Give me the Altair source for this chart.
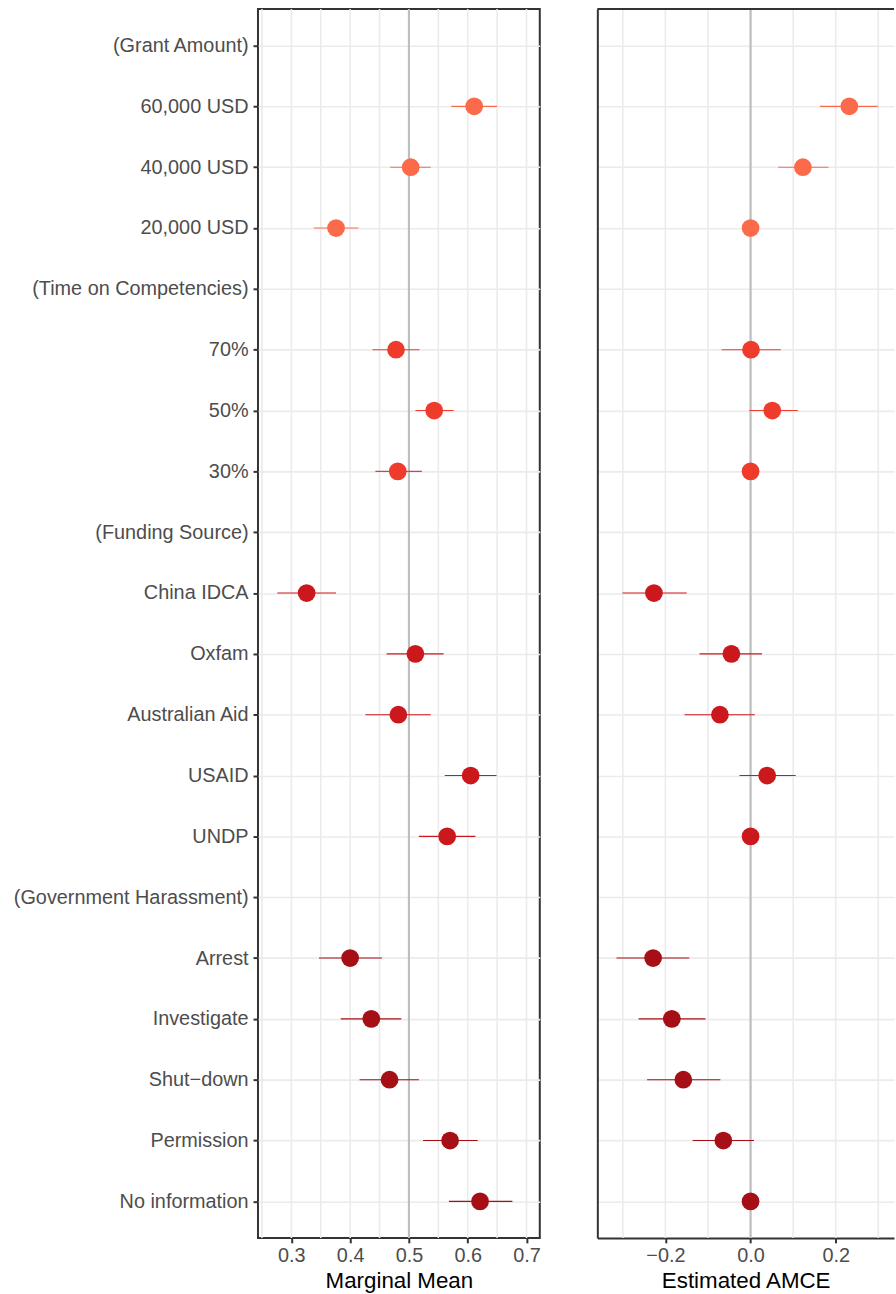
import altair as alt
import pandas as pd

# ---- data ----
levels = [
    "(Grant Amount)", "60,000 USD", "40,000 USD", "20,000 USD",
    "(Time on Competencies)", "70%", "50%", "30%",
    "(Funding Source)", "China IDCA", "Oxfam", "Australian Aid", "USAID", "UNDP",
    "(Government Harassment)", "Arrest", "Investigate", "Shut\u2212down", "Permission", "No information",
]
features = [
    "Grant Amount", "Grant Amount", "Grant Amount", "Grant Amount",
    "Time on Competencies", "Time on Competencies", "Time on Competencies", "Time on Competencies",
    "Funding Source", "Funding Source", "Funding Source", "Funding Source", "Funding Source", "Funding Source",
    "Government Harassment", "Government Harassment", "Government Harassment", "Government Harassment",
    "Government Harassment", "Government Harassment",
]
is_header = [True, False, False, False,
             True, False, False, False,
             True, False, False, False, False, False,
             True, False, False, False, False, False]

mm_est = [None, 0.611, 0.503, 0.376, None, 0.478, 0.543, 0.481, None, 0.326, 0.511, 0.482, 0.605, 0.565,
          None, 0.400, 0.436, 0.467, 0.570, 0.621]
mm_lo = [None, 0.572, 0.468, 0.338, None, 0.438, 0.511, 0.443, None, 0.276, 0.462, 0.426, 0.561, 0.517,
         None, 0.347, 0.384, 0.416, 0.524, 0.568]
mm_hi = [None, 0.650, 0.537, 0.414, None, 0.518, 0.576, 0.522, None, 0.376, 0.559, 0.537, 0.649, 0.613,
         None, 0.454, 0.487, 0.517, 0.617, 0.676]

amce_est = [None, 0.232, 0.123, 0.0, None, 0.001, 0.051, 0.0, None, -0.227, -0.045, -0.072, 0.039, 0.0,
            None, -0.229, -0.185, -0.158, -0.064, 0.0]
amce_lo = [None, 0.163, 0.065, None, None, -0.068, -0.003, None, None, -0.301, -0.120, -0.155, -0.026, None,
           None, -0.315, -0.263, -0.243, -0.136, None]
amce_hi = [None, 0.299, 0.183, None, None, 0.071, 0.111, None, None, -0.150, 0.027, 0.010, 0.106, None,
           None, -0.144, -0.106, -0.071, 0.008, None]

mm_ticks = [0.3, 0.4, 0.5, 0.6, 0.7]
mm_grid = [0.25, 0.3, 0.35, 0.4, 0.45, 0.5, 0.55, 0.6, 0.65, 0.7]
amce_ticks = [-0.2, 0.0, 0.2]
amce_grid = [-0.3, -0.2, -0.1, 0.0, 0.1, 0.2, 0.3]

group_order = ["Grant Amount", "Time on Competencies", "Funding Source", "Government Harassment"]
group_colors = ["#FB6A4A", "#EF3B2C", "#CB181D", "#A50F15"]

rows = []
for i, lv in enumerate(levels):
    if is_header[i]:
        continue
    rows.append({
        "level": lv, "feature": features[i],
        "mm": mm_est[i], "mm_lo": mm_lo[i], "mm_hi": mm_hi[i],
        "amce": amce_est[i], "amce_lo": amce_lo[i], "amce_hi": amce_hi[i],
    })
df = pd.DataFrame(rows)
df_bars = df.dropna(subset=["amce_lo"])

FONT = "Liberation Sans"
TXT = "#4D4D4D"
DARK = "#333333"
GRID = "#EBEBEB"
H = 1238.5
W_LEFT = 284
W_RIGHT = 299
GW = 1.6

color = alt.Color("feature:N", scale=alt.Scale(domain=group_order, range=group_colors), legend=None)


def yenc(show_labels):
    if show_labels:
        ax = alt.Axis(title=None, labels=True, ticks=True, tickSize=5, tickWidth=2, tickColor=DARK,
                      labelPadding=5, labelFontSize=20, labelColor=TXT, labelFont=FONT,
                      labelLimit=400, domain=False, grid=True, gridColor=GRID, gridWidth=GW)
    else:
        ax = alt.Axis(title=None, labels=False, ticks=False, domain=True, domainColor=DARK,
                      domainWidth=2, grid=True, gridColor=GRID, gridWidth=GW)
    return alt.Y("level:N", sort=levels, scale=alt.Scale(type="point", domain=levels, padding=0.6), axis=ax)


def xaxis(values, title, domain_line):
    return alt.Axis(
        title=title, values=values, format=".1f",
        tickSize=5, tickWidth=2, tickColor=DARK,
        labelFontSize=20, labelColor=TXT, labelFont=FONT, labelPadding=3,
        labelOverlap=False, labelFlush=False,
        titleFontSize=22.5, titleColor="#000000", titleFont=FONT, titleFontWeight="normal", titlePadding=4,
        domain=domain_line, domainColor=DARK, domainWidth=2,
        grid=False,
    )


def panel(xs, ticks, grid_vals, ref, title, est, lo, hi, bars_df, show_y, width, framed):
    grid = alt.Chart(pd.DataFrame({"g": grid_vals})).mark_rule(color=GRID, strokeWidth=GW).encode(
        x=alt.X("g:Q", scale=xs, axis=xaxis(ticks, title, not framed))
    )
    refl = alt.Chart(pd.DataFrame({"ref": [ref]})).mark_rule(color="#BEBEBE", strokeWidth=2.2).encode(
        x=alt.X("ref:Q", scale=xs)
    )
    bars = alt.Chart(bars_df).mark_rule(strokeWidth=1.1).encode(
        x=alt.X(lo + ":Q", scale=xs), x2=hi + ":Q", y=yenc(show_y), color=color
    )
    pts = alt.Chart(df).mark_circle(size=320, opacity=1).encode(
        x=alt.X(est + ":Q", scale=xs), y=yenc(show_y), color=color
    )
    layers = [grid, refl, bars, pts]
    if framed:
        view = alt.ViewBackground(stroke=DARK, strokeWidth=2)
    else:
        view = alt.ViewBackground(stroke="transparent")
        layers.append(
            alt.Chart(pd.DataFrame({"b": [0]})).mark_rule(color=DARK, strokeWidth=2).encode(
                x=alt.value(0), x2=alt.value(width), y=alt.value(0)
            )
        )
    return alt.layer(*layers).properties(width=width, height=H, view=view)


left = panel(alt.Scale(domain=[0.2432, 0.7226], nice=False, zero=False), mm_ticks, mm_grid, 0.5,
             "Marginal Mean", "mm", "mm_lo", "mm_hi", df, True, W_LEFT, True)
right = panel(alt.Scale(domain=[-0.360, 0.337], nice=False, zero=False), amce_ticks, amce_grid, 0.0,
              "Estimated AMCE", "amce", "amce_lo", "amce_hi", df_bars, False, W_RIGHT, False)

chart = alt.hconcat(left, right, spacing=54).properties(
    padding={"left": 12, "top": 1, "right": 0, "bottom": 0},
    background="white",
).configure_view(stroke=DARK)

chart.save("out.html", embed_options={"renderer": "svg", "actions": False})
